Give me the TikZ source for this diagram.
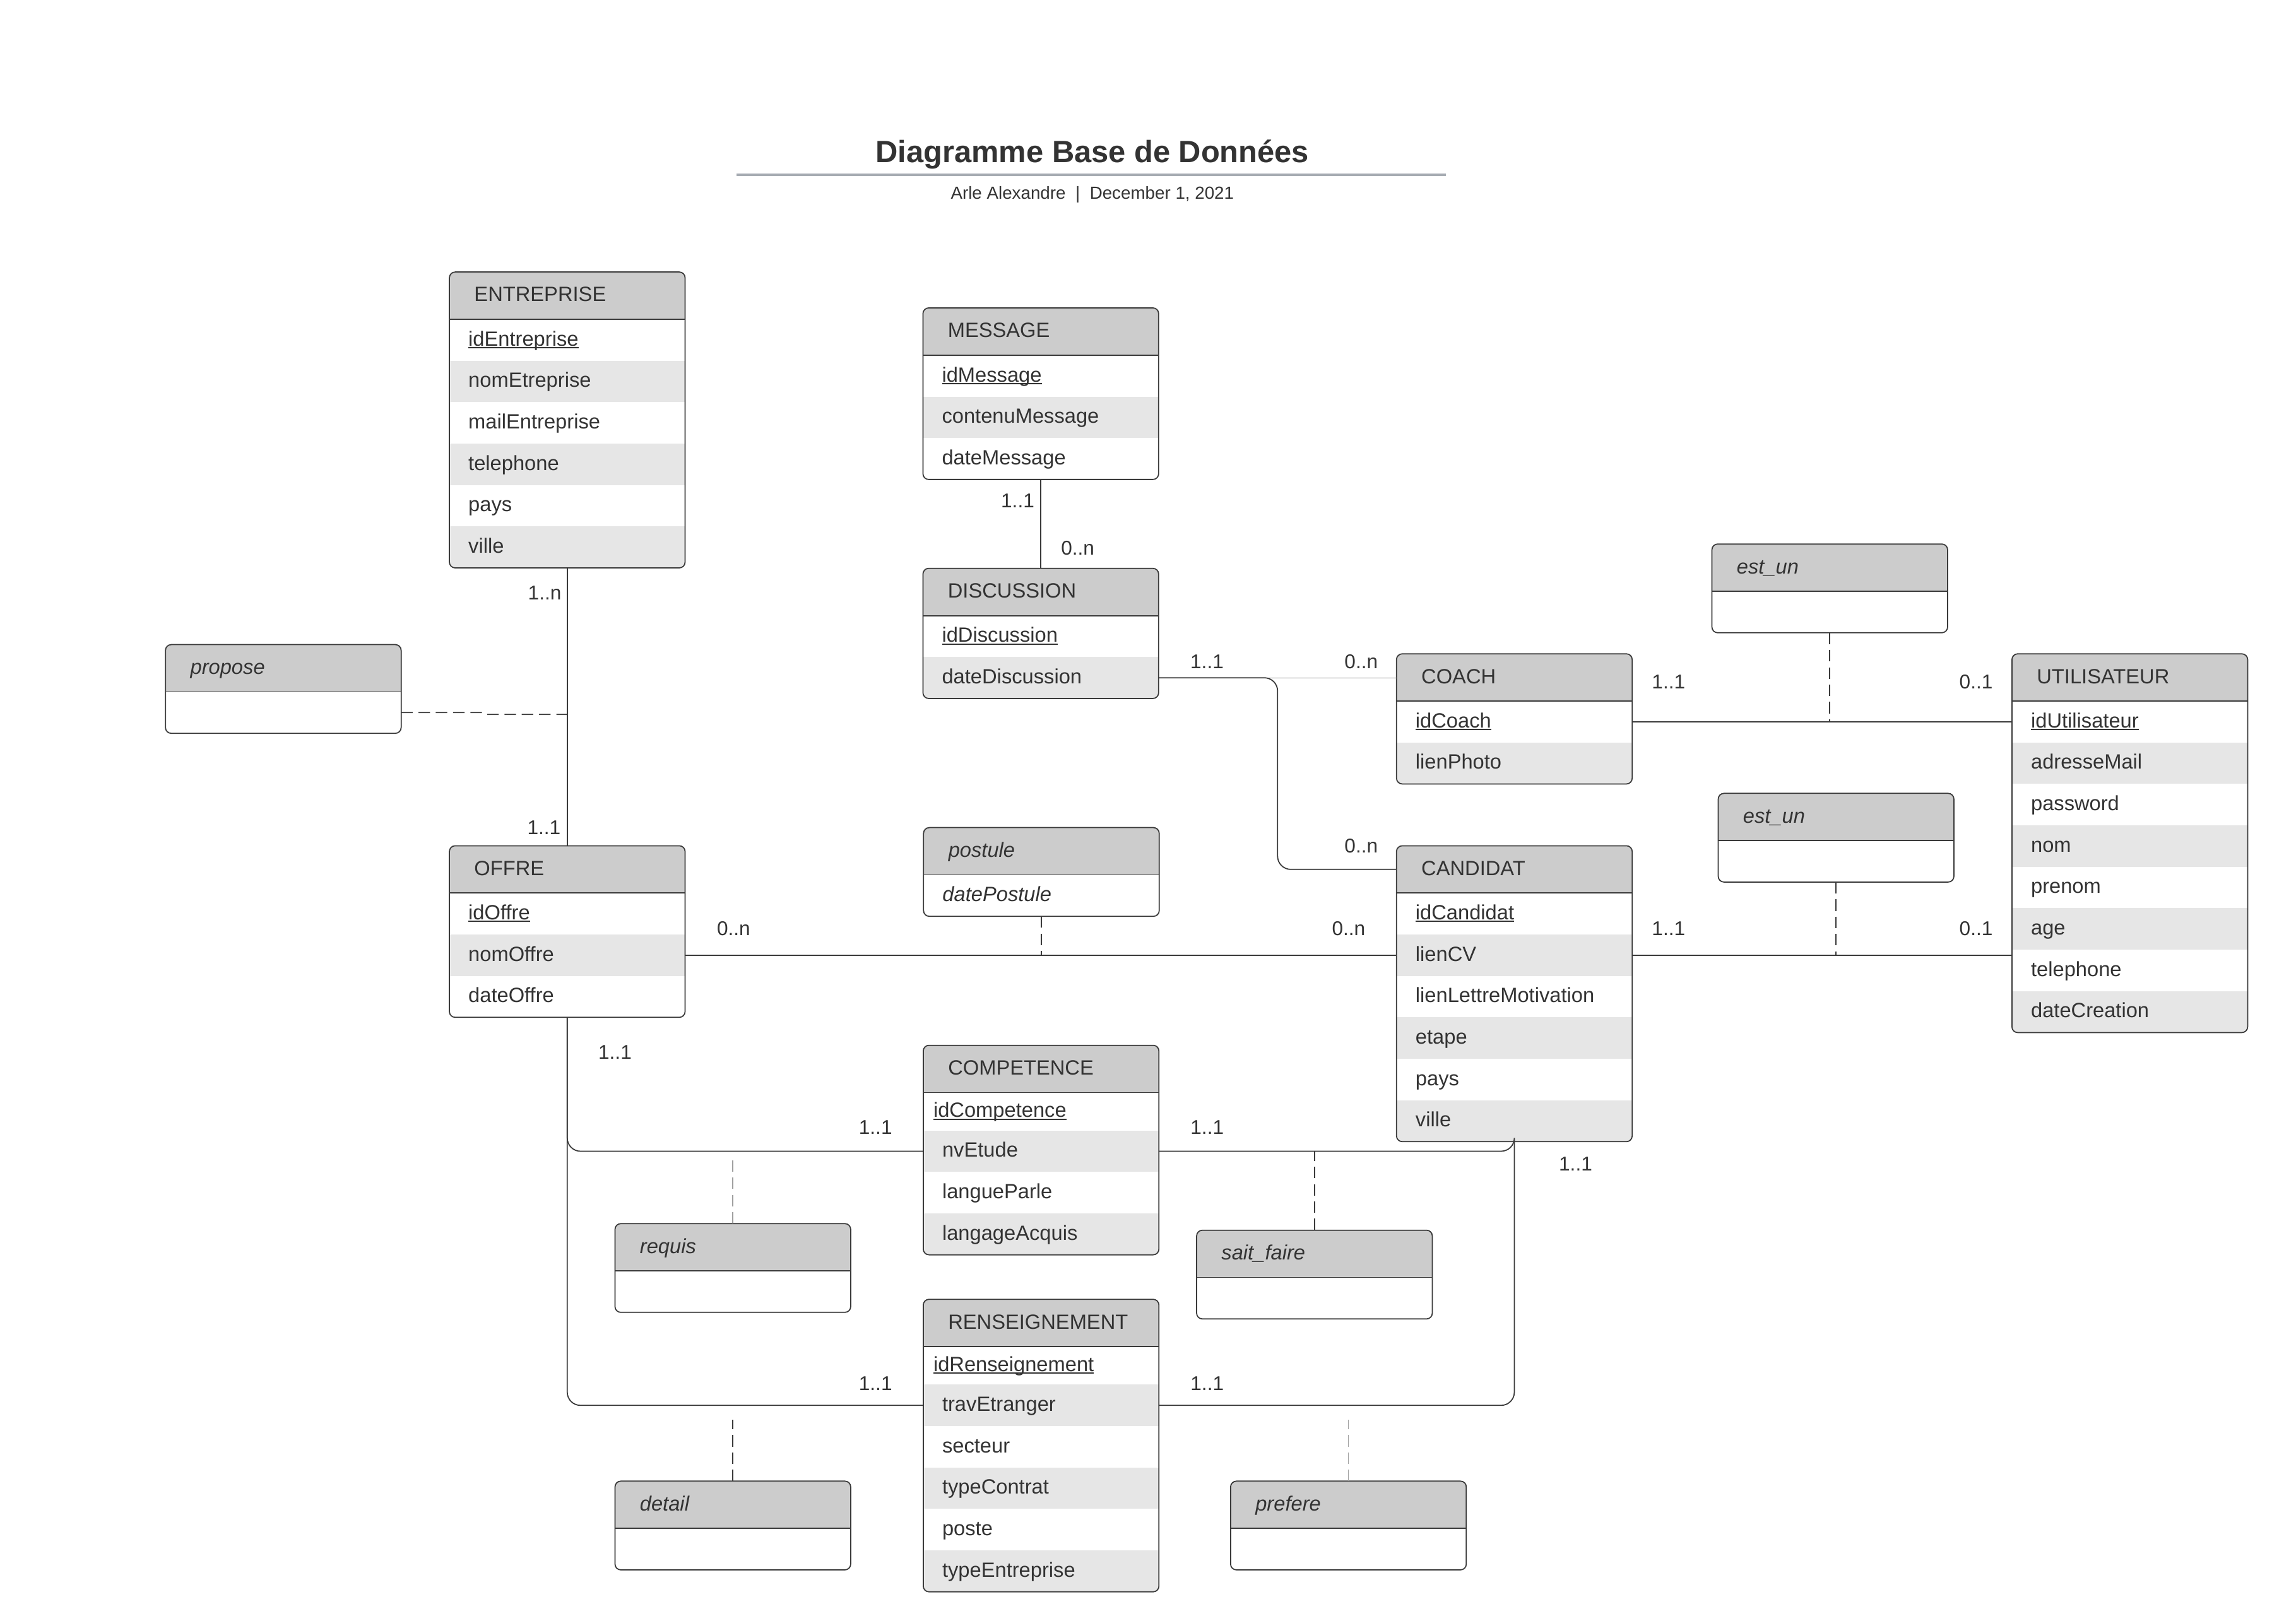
\documentclass[tikz,border=0pt]{standalone}
\usepackage{fontspec}
\setmainfont{Liberation Sans}
\usetikzlibrary{calc}
\definecolor{txtc}{HTML}{333333}
\definecolor{hdrc}{HTML}{CCCCCC}
\definecolor{altc}{HTML}{E6E6E6}
\definecolor{bordc}{HTML}{3A3A3A}
\definecolor{rulec}{HTML}{A6ABB2}
\definecolor{lightd}{HTML}{A0A0A0}
\newcommand\fsz{\fontsize{9.3}{11}\selectfont}
\newcommand\uln[1]{\setbox0\hbox{#1}\rlap{\rule[-1.1pt]{\wd0}{0.6pt}}\box0}
\tikzset{
  hdrS/.style={anchor=north west, inner sep=0pt, outer sep=0pt, minimum width=3.7355cm, text width=3.7355cm, minimum height=0.7494cm, align=left, fill=hdrc, text=txtc, text height=5.7pt, text depth=0.35pt},
  rowS/.style={anchor=north west, inner sep=0pt, outer sep=0pt, minimum width=3.7355cm, text width=3.7355cm, align=left, text=txtc, text height=5.6pt, text depth=0.3pt},
  frameS/.style={draw=bordc, line width=0.5pt, rounded corners=2.6pt, anchor=north west, inner sep=0pt, outer sep=0pt, minimum width=3.7355cm},
  sepS/.style={draw=bordc, line width=0.5pt},
  ln/.style={draw=bordc, line width=0.5pt},
  lnthin/.style={draw=bordc!60, line width=0.35pt},
  rc/.style={ln, rounded corners=0.21cm},
  dsh/.style={draw=#1, line width=0.5pt, dash pattern=on 5.2pt off 2.6pt},
  dsh/.default=bordc,
  lbl/.style={text=txtc, font=\fontsize{9}{11}\selectfont, inner sep=0pt, text height=6.4pt, text depth=0pt},
}
% #1 id, #2 x, #3 y top, #4 title, #5 font shape, #6 first row height, #7 rows, #8 list
\newcommand\erbox[8]{%
  \pgfmathsetmacro\eh{32.3+#6+(#7-1)*28.3}
  \begin{scope}
    \clip[rounded corners=2.6pt] (#2,#3) rectangle ++(161,\eh);
    \node[hdrS, font=\fsz#5] (#1-h) at (#2,#3) {\hspace*{0.3944cm}#4};
    \foreach \attr [count=\k] in {#8} {
      \pgfmathsetmacro\yy{#3+32.3+(\k>1)*(#6+(\k-2)*28.3)}
      \pgfmathsetmacro\hh{\k==1 ? #6 : 28.3}
      \ifodd\k \def\rcol{white}\else\def\rcol{altc}\fi
      \node[rowS, font=\fsz#5, fill=\rcol, minimum height=\hh*0.023202cm] (#1-\k) at (#2,\yy) {\hspace*{0.3016cm}\attr};
    }
  \end{scope}
  \draw[sepS] (#1-h.south west) -- (#1-h.south east);
  \node[frameS, minimum height=\eh*0.023202cm] (#1) at (#2,#3) {};
}
\begin{document}
\begin{tikzpicture}[x=0.023202cm, y=-0.023202cm]
\useasboundingbox (0,0) rectangle (1568,1107.2);
\fill[white] (0,0) rectangle (1568,1107.2);

% title
\node[font=\bfseries\fontsize{13.9}{16}\selectfont, text=txtc, inner sep=0pt, text height=9.95pt, text depth=0pt] (title) at (746,103.3) {Diagramme Base de Données};
\draw[rulec, line width=1.1pt] (503,119.4) -- (987.4,119.4);
\node[font=\fontsize{7.9}{9}\selectfont, text=txtc, inner sep=0pt, text height=5.66pt, text depth=0pt] (sub) at (746,131.5) {Arle Alexandre\hspace{0.155cm}|\hspace{0.155cm}December 1, 2021};

% entities
\erbox{ent}{306.9}{185.8}{ENTREPRISE}{\upshape}{28.3}{6}{{\uln{idEntreprise}},nomEtreprise,mailEntreprise,telephone,pays,ville}
\erbox{msg}{630.3}{210.3}{MESSAGE}{\upshape}{28.3}{3}{{\uln{idMessage}},contenuMessage,dateMessage}
\erbox{disc}{630.3}{388.2}{DISCUSSION}{\upshape}{28.3}{2}{{\uln{idDiscussion}},dateDiscussion}
\erbox{cch}{953.7}{446.6}{COACH}{\upshape}{28.3}{2}{{\uln{idCoach}},lienPhoto}
\erbox{util}{1374}{446.6}{UTILISATEUR}{\upshape}{28.3}{8}{{\uln{idUtilisateur}},adresseMail,password,nom,prenom,age,telephone,dateCreation}
\erbox{cand}{953.7}{577.7}{CANDIDAT}{\upshape}{28.3}{6}{{\uln{idCandidat}},lienCV,lienLettreMotivation,etape,pays,ville}
\erbox{off}{306.9}{577.7}{OFFRE}{\upshape}{28.3}{3}{{\uln{idOffre}},nomOffre,dateOffre}
\erbox{comp}{630.5}{714}{COMPETENCE}{\upshape}{25.9}{4}{{\hspace*{-0.14cm}\uln{idCompetence}},nvEtude,langueParle,langageAcquis}
\erbox{ren}{630.5}{887.5}{RENSEIGNEMENT}{\upshape}{26}{6}{{\hspace*{-0.14cm}\uln{idRenseignement}},travEtranger,secteur,typeContrat,poste,typeEntreprise}

% relationships
\erbox{prop}{113}{440.3}{propose}{\itshape}{28.3}{1}{{\phantom{x}}}
\erbox{eu1}{1169.1}{371.6}{est\_un}{\itshape}{28.3}{1}{{\phantom{x}}}
\erbox{eu2}{1173.4}{541.9}{est\_un}{\itshape}{28.3}{1}{{\phantom{x}}}
\erbox{post}{630.7}{565.3}{postule}{\itshape}{28.3}{1}{datePostule}
\erbox{req}{420}{835.8}{requis}{\itshape}{28.3}{1}{{\phantom{x}}}
\erbox{sf}{817.2}{840.3}{sait\_faire}{\itshape}{28.3}{1}{{\phantom{x}}}
\erbox{det}{420}{1011.7}{detail}{\itshape}{28.3}{1}{{\phantom{x}}}
\erbox{pref}{840.4}{1011.7}{prefere}{\itshape}{28.3}{1}{{\phantom{x}}}

% connectors
\coordinate (pj) at (387.9,488);
\draw[ln] (ent.south) -- (off.north);
\draw[dsh] (prop-1.east) -- ++(56,0) -- ++(2,1.2) -- (pj);
\draw[ln] (msg.south) -- (disc.north);
\draw[lnthin] (disc-2.east) -- (disc-2.east -| cch-h.west);
\draw[rc] (disc-2.east) -| ($(disc-2.east)!0.5!(cand-h.west)$) |- (cand-h.west);
\draw[ln] (cch-1.east) -- (util-1.west);
\draw[dsh] (eu1.south) -- (eu1.south |- cch-1.east);
\draw[ln] (cand-2.east) -- (cand-2.east -| util.west);
\draw[dsh] (eu2.south) -- (eu2.south |- cand-2.east);
\draw[ln] (off-2.east) -- (off-2.east -| cand.west);
\draw[dsh] (post.south) -- (post.south |- off-2.east);
\draw[rc] (off.south) |- (comp-2.west);
\draw[rc] (off.south) |- (ren-2.west);
\draw[rc] (comp-2.east) -| (cand.south);
\draw[rc] (ren-2.east) -| (cand.south);
\draw[dsh=lightd] (req.north) -- ($(req.north |- comp-2.west)+(0,6)$);
\draw[dsh] (sf.north) -- (sf.north |- comp-2.east);
\draw[dsh] (det.north) -- ($(det.north |- ren-2.west)+(0,10)$);
\draw[dsh=lightd] (pref.north) -- ($(pref.north |- ren-2.east)+(0,10)$);

% cardinalities
\node[lbl] (c1) at (372,405) {1..n};
\node[lbl] (c2) at (371.5,565) {1..1};
\node[lbl] (c3) at (695,342) {1..1};
\node[lbl] (c4) at (736,374) {0..n};
\node[lbl] (c5) at (824.3,451.8) {1..1};
\node[lbl] (c6) at (929.6,451.8) {0..n};
\node[lbl] (c7) at (929.6,577.5) {0..n};
\node[lbl] (c8) at (1139.5,465.6) {1..1};
\node[lbl] (c9) at (1349.5,465.6) {0..1};
\node[lbl] (c10) at (1139.5,634) {1..1};
\node[lbl] (c11) at (1349.5,634) {0..1};
\node[lbl] (c12) at (501,634) {0..n};
\node[lbl] (c13) at (921,634) {0..n};
\node[lbl] (c14) at (420,718.4) {1..1};
\node[lbl] (c15) at (597.9,770) {1..1};
\node[lbl] (c16) at (824.4,770) {1..1};
\node[lbl] (c17) at (1076,795) {1..1};
\node[lbl] (c18) at (597.9,944.8) {1..1};
\node[lbl] (c19) at (824.4,944.8) {1..1};
\end{tikzpicture}
\end{document}
